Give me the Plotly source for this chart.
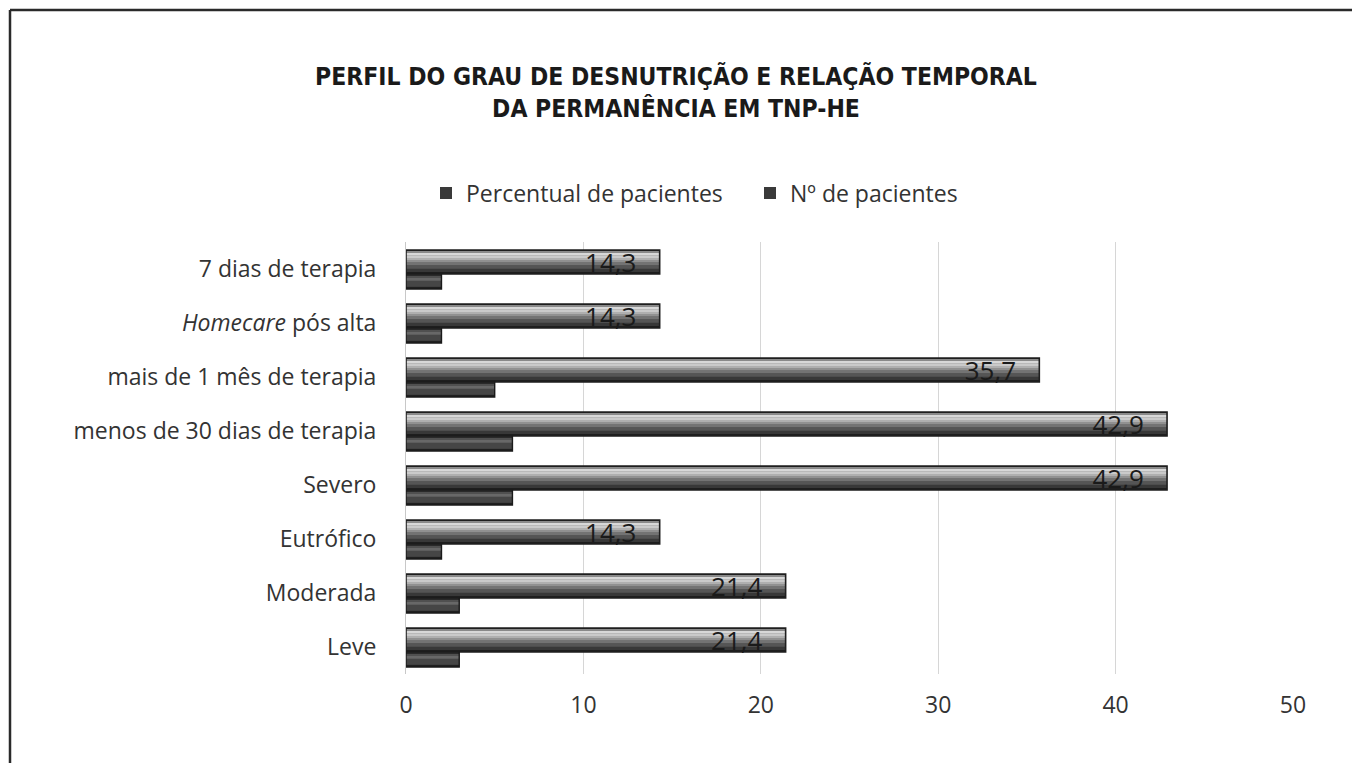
import plotly.graph_objects as go

categories = ["Leve", "Moderada", "Eutrófico", "Severo",
              "menos de 30 dias de terapia", "mais de 1 mês de terapia",
              "<i>Homecare</i> pós alta", "7 dias de terapia"]
percentual = [21.4, 21.4, 14.3, 42.9, 42.9, 35.7, 14.3, 14.3]
n_pacientes = [3, 3, 2, 6, 6, 5, 2, 2]
x_ticks = [0, 10, 20, 30, 40, 50]

ypos = list(range(len(categories)))

# page body has an 8px margin, so figure origin is at screen (8, 8)
OFF = 8
W, H = 1360, 763
L, R, T, B = 406 - OFF, 1360 - (1293 - OFF), 242 - OFF, 763 - (674 - OFF)
pw, ph = W - L - R, H - T - B

def px_x(p):  # screen px -> paper
    return (p - OFF - L) / pw

def px_y(p):
    return (H - B - (p - OFF)) / ph

FONT = "Open Sans, Lato, sans-serif"

fig = go.Figure()

# bar geometry (category units)
P_OFF, P_W = -0.09, 0.44
N_OFF, N_W = -0.37, 0.28

# shading bands (fraction from bottom, fraction to, colour)
pct_bands = [
    (0.00, 0.08, "#1e1e1e"),
    (0.08, 0.22, "#383838"),
    (0.22, 0.36, "#555555"),
    (0.36, 0.48, "#737373"),
    (0.48, 0.58, "#919191"),
    (0.58, 0.67, "#afafaf"),
    (0.67, 0.76, "#cacaca"),
    (0.76, 0.90, "#d8d8d8"),
    (0.90, 1.00, "#8a8a8a"),
]
n_bands = [
    (0.00, 0.15, "#202020"),
    (0.15, 0.55, "#464646"),
    (0.55, 0.78, "#686868"),
    (0.78, 0.90, "#505050"),
    (0.90, 1.00, "#2a2a2a"),
]

# legend entries (drawn as full bars underneath the bands)
fig.add_trace(go.Bar(
    x=percentual, y=ypos, orientation="h", offset=P_OFF, width=P_W,
    marker=dict(color="#3a3a3a", line=dict(width=0)),
    name="Percentual de pacientes", legendgroup="pct",
))
for f0, f1, col in pct_bands:
    fig.add_trace(go.Bar(
        x=percentual, y=ypos, orientation="h",
        offset=P_OFF + f0 * P_W, width=(f1 - f0) * P_W,
        marker=dict(color=col, line=dict(width=0)),
        showlegend=False, legendgroup="pct", hoverinfo="skip",
    ))
fig.add_trace(go.Bar(
    x=percentual, y=ypos, orientation="h", offset=P_OFF, width=P_W,
    marker=dict(color="rgba(0,0,0,0)", line=dict(color="#1e1e1e", width=1.6)),
    showlegend=False, legendgroup="pct",
    texttemplate="%{x:.1f}\u00a0\u00a0\u00a0", textposition="inside", insidetextanchor="end",
    constraintext="none", textangle=0,
    textfont=dict(family=FONT, size=26, color="#1a1a1a"),
))

fig.add_trace(go.Bar(
    x=n_pacientes, y=ypos, orientation="h", offset=N_OFF, width=N_W,
    marker=dict(color="#3a3a3a", line=dict(width=0)),
    name="Nº de pacientes", legendgroup="n",
))
for f0, f1, col in n_bands:
    fig.add_trace(go.Bar(
        x=n_pacientes, y=ypos, orientation="h",
        offset=N_OFF + f0 * N_W, width=(f1 - f0) * N_W,
        marker=dict(color=col, line=dict(width=0)),
        showlegend=False, legendgroup="n", hoverinfo="skip",
    ))
fig.add_trace(go.Bar(
    x=n_pacientes, y=ypos, orientation="h", offset=N_OFF, width=N_W,
    marker=dict(color="rgba(0,0,0,0)", line=dict(color="#1a1a1a", width=1.4)),
    showlegend=False, legendgroup="n",
))

fig.update_layout(
    width=W, height=H,
    margin=dict(l=L, r=R, t=T, b=B, autoexpand=False),
    paper_bgcolor="white", plot_bgcolor="white",
    barmode="overlay", separators=",.",
    font=dict(family=FONT, size=23, color="#333333"),
    title=dict(
        text="<b>PERFIL DO GRAU DE DESNUTRIÇÃO E RELAÇÃO TEMPORAL<br>DA PERMANÊNCIA EM TNP-HE</b>",
        x=(676 - OFF) / W, xanchor="center", xref="container",
        y=1 - (85 - OFF) / H, yanchor="top", yref="container",
        font=dict(family="DejaVu Sans Condensed, Liberation Sans, sans-serif",
                  size=24.5, color="#1a1a1a"),
    ),
    legend=dict(
        orientation="h", x=px_x(750), xanchor="center",
        y=px_y(193), yanchor="middle",
        font=dict(family=FONT, size=23, color="#333333"),
        itemwidth=30, entrywidth=279, entrywidthmode="pixels",
    ),
    xaxis=dict(
        range=[0, 50], tickvals=x_ticks, showgrid=True, gridcolor="#d6d6d6",
        gridwidth=1, zeroline=False, showline=False,
        ticks="outside", ticklen=10, tickcolor="rgba(0,0,0,0)",
        tickfont=dict(family=FONT, size=23, color="#333333"),
    ),
    yaxis=dict(
        range=[-0.5, 7.5], tickvals=ypos, ticktext=categories,
        showgrid=False, zeroline=False, showline=True, linecolor="#c8c8c8",
        linewidth=1, ticks="outside", ticklen=24, tickcolor="rgba(0,0,0,0)",
        tickfont=dict(family=FONT, size=23, color="#333333"),
    ),
    shapes=[
        dict(type="line", xref="paper", yref="paper",
             x0=px_x(10), x1=px_x(W + 20), y0=px_y(10), y1=px_y(10),
             line=dict(color="#2a2a2a", width=2.5)),
        dict(type="line", xref="paper", yref="paper",
             x0=px_x(10), x1=px_x(10), y0=px_y(10), y1=px_y(H + 20),
             line=dict(color="#2a2a2a", width=2.5)),
    ],
)

fig.write_html("out.html")
